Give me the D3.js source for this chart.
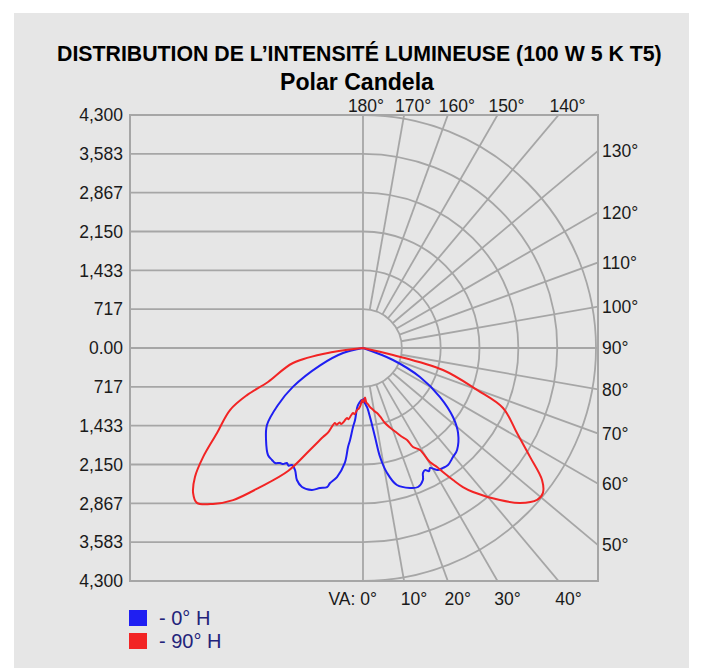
<!DOCTYPE html>
<html>
<head>
<meta charset="utf-8">
<script src="https://cdn.jsdelivr.net/npm/d3@7"></script>
<style>
  body { margin: 0; background: #fff; }
  text { font-family: "Liberation Sans", Arial, sans-serif; }
</style>
</head>
<body>
<svg id="chart" width="701" height="668"></svg>
<script>
const title = "DISTRIBUTION DE L’INTENSITÉ LUMINEUSE (100 W 5 K T5)";
const subtitle = "Polar Candela";

// candela grid (left half, mirrored above / below 0)
const candelaTicks = [-4300, -3583, -2867, -2150, -1433, -717, 0, 717, 1433, 2150, 2867, 3583, 4300];
const candelaTickLabels = ["4,300", "3,583", "2,867", "2,150", "1,433", "717", "0.00", "717", "1,433", "2,150", "2,867", "3,583", "4,300"];
const ringCandela = [717, 1433, 2150, 2867, 3583, 4300];

// vertical angles (0 = nadir, 180 = zenith)
const spokeAngles = [10, 20, 30, 40, 50, 60, 70, 80, 100, 110, 120, 130, 140, 150, 160, 170];
const topAngles = [180, 170, 160, 150, 140];
const rightAngles = [130, 120, 110, 100, 90, 80, 70, 60, 50];
const bottomAngles = [0, 10, 20, 30, 40];

const seriesNames = ["- 0° H", "- 90° H"];
const seriesColors = ["#1f1ff2", "#f22424"];

// gamma: signed angle from nadir, negative = left half
const gamma0 = [-90, -76, -68, -61, -56, -51.3, -46.5, -41.6, -39.1, -37.4, -35.8, -34.5, -33.5, -32.3, -31.3, -29.1,
  -26.6, -23.7, -19.8, -17.1, -14.5, -13.7, -11.4, -9.0, -8.6, -8.0, -7.2, -6.3, -5.5, -4, -1.5, -0.5, 0.5, 1.5,
  4, 5.8, 7.7, 8.9, 10.9, 13.9, 18.6, 21.6, 24.4, 25.6, 26.9, 28.2, 29.2, 31.5, 33.7, 36, 39.5, 42.7, 48.2, 52.5,
  57.5, 63, 68.2, 90];
const candela0 = [0, 380, 853, 1480, 1904, 2271, 2467, 2641, 2663, 2672, 2617, 2600, 2544, 2570, 2526, 2578,
  2724, 2801, 2785, 2703, 2650, 2565, 2429, 2148, 1848, 1715, 1470, 1337, 1094, 1019, 960, 1000, 940, 1000,
  1100, 1280, 1657, 2036, 2349, 2605, 2725, 2759, 2676, 2560, 2526, 2580, 2536, 2640, 2661, 2669, 2609, 2560, 2353, 2093,
  1685, 1180, 596, 0];

const gamma90 = [-90, -82.4, -77.9, -70.3, -67.9, -65, -59.8, -55.7, -52.5, -49.5, -47, -43.9, -40.5, -36.5,
  -31.3, -27.5, -24.2, -22.5, -20.5, -19, -17.5, -16, -14.5, -12.9, -11.5, -10, -8.7, -7.2, -5.5, -4, -2.5, -1,
  0.5, 2.3, 3.5, 5, 6.5, 7.6, 9, 10.5, 12.2, 14, 16.3, 19, 21.8, 23.5, 25.6, 26.8, 29.2, 30.4, 31.9, 32.8, 34.3,
  35.7, 37.4, 42, 45.4, 48.9, 51.1, 53.6, 56.9, 61.1, 66.8, 69.8, 74.6, 76.9, 90];
const candela90 = [0, 559, 1321, 1862, 2310, 2708, 3117, 3573, 3909, 4123, 4191, 3994, 3691, 3193,
  2650, 2121, 1801, 1690, 1477, 1500, 1440, 1460, 1400, 1325, 1340, 1260, 1214, 1230, 1150, 1120, 1060, 960,
  1000, 915, 1010, 1040, 1090, 1117, 1150, 1190, 1227, 1300, 1443, 1560, 1689, 1780, 1882, 2047, 2156, 2440, 2586, 2723, 2949,
  3160, 3344, 3777, 4072, 4264, 4265, 4105, 3680, 3246, 2811, 2242, 1531, 568, 0];

const svg = d3.select("#chart");
const W = 701, H = 668;
const plot = { left: 130, right: 598, top: 115, bottom: 581 };

// panel
svg.append("rect").attr("x", 14).attr("y", 13).attr("width", 675).attr("height", H - 13).attr("fill", "#e6e6e6");

// scales
const y = d3.scaleLinear().domain([-4300, 4300]).range([plot.top, plot.bottom]);
const cx = plot.left + (y(0) - plot.top);
const cy = y(0);
const r = d3.scaleLinear().domain([0, 4300]).range([0, y(0) - plot.top]);
const angle = d3.scaleLinear().domain([-180, 180]).range([2 * Math.PI, 0]);

const g = svg.append("g");
svg.append("clipPath").attr("id", "plotClip").append("rect")
  .attr("x", plot.left).attr("y", plot.top)
  .attr("width", plot.right - plot.left).attr("height", plot.bottom - plot.top);

const grid = g.append("g").attr("clip-path", "url(#plotClip)")
  .attr("stroke", "#a6a6a6").attr("stroke-width", 1.8).attr("fill", "none");

// horizontal lines on the left half
grid.selectAll(".hline").data(candelaTicks).enter().append("line")
  .attr("x1", plot.left).attr("x2", cx)
  .attr("y1", d => y(d)).attr("y2", d => y(d));
// center cross
grid.append("line").attr("x1", cx).attr("x2", cx).attr("y1", plot.top).attr("y2", plot.bottom);
grid.append("line").attr("x1", cx).attr("x2", plot.right).attr("y1", cy).attr("y2", cy);

// rings on the right half
grid.selectAll(".ring").data(ringCandela).enter().append("path")
  .attr("d", d => {
    const p = d3.path();
    p.arc(cx, cy, r(d), -Math.PI / 2, Math.PI / 2);
    return p.toString();
  });

// spokes
grid.selectAll(".spoke").data(spokeAngles).enter().append("line")
  .attr("x1", d => cx + d3.pointRadial(angle(d), r(717))[0])
  .attr("y1", d => cy + d3.pointRadial(angle(d), r(717))[1])
  .attr("x2", d => cx + d3.pointRadial(angle(d), r(9000))[0])
  .attr("y2", d => cy + d3.pointRadial(angle(d), r(9000))[1]);

// frame
g.append("rect").attr("x", plot.left).attr("y", plot.top)
  .attr("width", plot.right - plot.left).attr("height", plot.bottom - plot.top)
  .attr("fill", "none").attr("stroke", "#a6a6a6").attr("stroke-width", 2);

// where a spoke meets the frame
function rimPoint(a) {
  const [dx, dy] = d3.pointRadial(angle(a), 1);
  let t = Infinity;
  if (dx > 1e-9) t = Math.min(t, (plot.right - cx) / dx);
  if (dy > 1e-9) t = Math.min(t, (plot.bottom - cy) / dy);
  if (dy < -1e-9) t = Math.min(t, (plot.top - cy) / dy);
  return [cx + dx * t, cy + dy * t];
}

const labelFont = 17.5;
const labels = g.append("g").attr("fill", "#1a1a1a").attr("font-size", labelFont);

labels.selectAll(".ytick").data(candelaTicks).enter().append("text")
  .attr("x", plot.left - 7).attr("y", d => y(d)).attr("dy", "0.36em")
  .attr("text-anchor", "end")
  .text((d, i) => candelaTickLabels[i]);

labels.selectAll(".ttick").data(topAngles).enter().append("text")
  .attr("x", d => rimPoint(d)[0] + (d === 180 ? 3 : 9)).attr("y", plot.top - 3)
  .attr("text-anchor", "middle")
  .text(d => d + "°");

labels.selectAll(".rtick").data(rightAngles).enter().append("text")
  .attr("x", plot.right + 4).attr("y", d => rimPoint(d)[1]).attr("dy", "0.36em")
  .text(d => d + "°");

labels.selectAll(".btick").data(bottomAngles).enter().append("text")
  .attr("x", d => d === 0 ? rimPoint(d)[0] + 14 : rimPoint(d)[0] + 10)
  .attr("y", plot.bottom + 24)
  .attr("text-anchor", d => d === 0 ? "end" : "middle")
  .text(d => (d === 0 ? "VA: " : "") + d + "°");

// curves
const line = d3.lineRadial()
  .angle(d => angle(d[0]))
  .radius(d => r(d[1]))
  .curve(d3.curveCatmullRom.alpha(0.5));

const series = [d3.zip(gamma0, candela0), d3.zip(gamma90, candela90)];
g.append("g").attr("transform", `translate(${cx},${cy})`)
  .selectAll("path").data(series).enter().append("path")
  .attr("d", line)
  .attr("fill", "none")
  .attr("stroke", (d, i) => seriesColors[i])
  .attr("stroke-width", 2)
  .attr("stroke-linejoin", "round");

// legend
const legend = g.append("g");
seriesNames.forEach((name, i) => {
  legend.append("rect").attr("x", 129).attr("y", 610 + i * 23).attr("width", 18).attr("height", 16)
    .attr("fill", seriesColors[i]);
  legend.append("text").attr("x", 159).attr("y", 625 + i * 23)
    .attr("font-size", 20).attr("fill", "#23237a").text(name);
});

// titles
function fitText(sel, width) {
  const w = sel.node().getComputedTextLength();
  const fs = parseFloat(sel.attr("font-size"));
  sel.attr("font-size", fs * width / w);
}
const t1 = svg.append("text").attr("x", 57).attr("y", 61)
  .attr("font-family", "Lato, 'Open Sans', sans-serif").attr("font-weight", 700)
  .attr("font-size", 20).attr("fill", "#000").text(title);
fitText(t1, 605);
const t2 = svg.append("text").attr("x", 280).attr("y", 90)
  .attr("font-family", "'DejaVu Sans', sans-serif").attr("font-weight", 700)
  .attr("font-size", 18).attr("fill", "#000").text(subtitle);
fitText(t2, 154);
</script>
</body>
</html>
